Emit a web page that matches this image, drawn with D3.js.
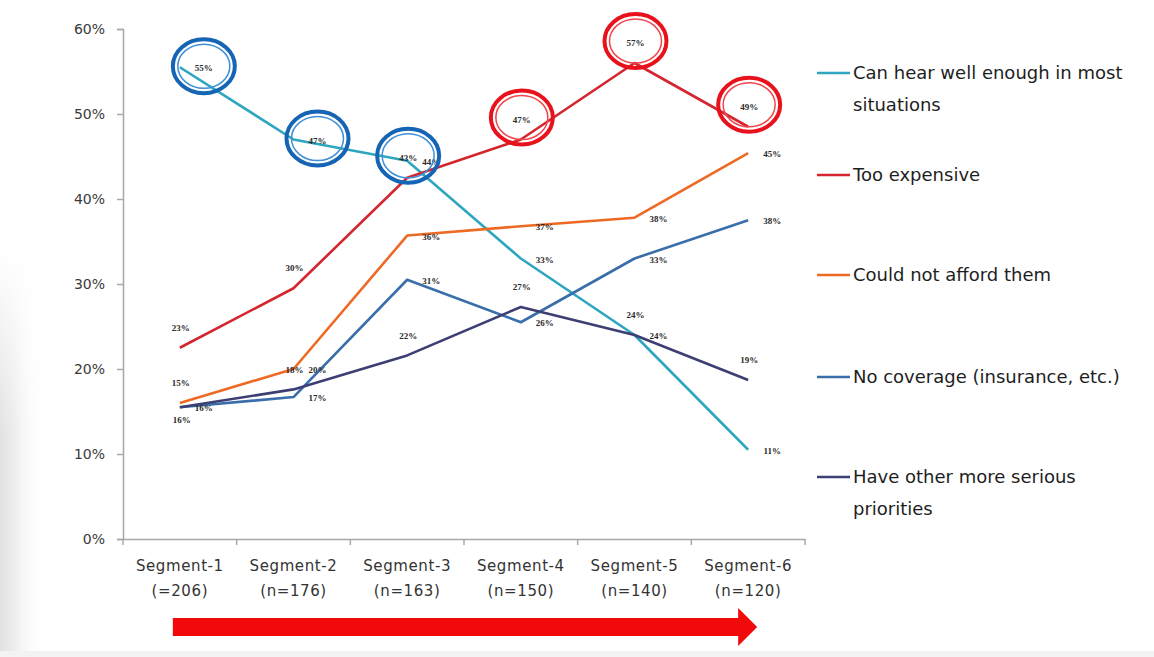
<!DOCTYPE html>
<html>
<head>
<meta charset="utf-8">
<script src="https://cdn.jsdelivr.net/npm/d3@7"></script>
<style>
    body { margin: 0; background: #fff; }
    svg { display: block; }
</style>
</head>
<body>
<div id="chart"></div>
<script>
let segments = ["Segment-1", "Segment-2", "Segment-3", "Segment-4", "Segment-5", "Segment-6"];
let sampleSizes = ["(=206)", "(n=176)", "(n=163)", "(n=150)", "(n=140)", "(n=120)"];
let yTicks = [0, 0.1, 0.2, 0.3, 0.4, 0.5, 0.6];

let seriesNames = ["Can hear well enough in most situations", "Too expensive", "Could not afford them",
    "No coverage (insurance, etc.)", "Have other more serious priorities"];
let legendLines = [["Can hear well enough in most", "situations"], ["Too expensive"], ["Could not afford them"],
    ["No coverage (insurance, etc.)"], ["Have other more serious", "priorities"]];

let hearWell = [55.5, 47, 44.5, 33, 24, 10.5];
let tooExpensive = [22.5, 29.5, 42.5, 47, 56, 48.5];
let couldNotAfford = [16, 20, 35.7, 36.8, 37.8, 45.4];
let noCoverage = [15.5, 16.7, 30.5, 25.5, 33, 37.5];
let otherPriorities = [15.5, 17.6, 21.6, 27.3, 24, 18.7];

let hearWellLabels = ["55%", "47%", "44%", "33%", "24%", "11%"];
let tooExpensiveLabels = ["23%", "30%", "43%", "47%", "57%", "49%"];
let couldNotAffordLabels = ["15%", "20%", "36%", "37%", "38%", "45%"];
let noCoverageLabels = ["16%", "17%", "31%", "26%", "33%", "38%"];
let otherPrioritiesLabels = ["16%", "18%", "22%", "27%", "24%", "19%"];

// where each data label sits: r = right of point, a = above, b = below
let hearWellPlace = ["r", "r", "r", "r", "r", "r"];
let tooExpensivePlace = ["a", "a", "a", "a", "a", "a"];
let couldNotAffordPlace = ["a", "r", "r", "r", "r", "r"];
let noCoveragePlace = ["b", "r", "r", "r", "r", "r"];
let otherPrioritiesPlace = ["r", "a", "a", "a", "a", "a"];

// circled labels: [series index, segment index, ring colour]
let highlights = [[0, 0, "blue"], [0, 1, "blue"], [1, 2, "blue"], [1, 3, "red"], [1, 4, "red"], [1, 5, "red"]];

let colors = ["#2ea6bf", "#d3262f", "#ee6a24", "#3a6eab", "#3d3f74"];

let values = [hearWell, tooExpensive, couldNotAfford, noCoverage, otherPriorities];
let labels = [hearWellLabels, tooExpensiveLabels, couldNotAffordLabels, noCoverageLabels, otherPrioritiesLabels];
let places = [hearWellPlace, tooExpensivePlace, couldNotAffordPlace, noCoveragePlace, otherPrioritiesPlace];

let width = 1154, height = 657;
let plotLeft = 123, plotRight = 805, plotTop = 29, plotBottom = 539;

let svg = d3.select("#chart").append("svg")
    .attr("width", width)
    .attr("height", height);

//faint grey shading along the left and bottom edge
{
    let defs = svg.append("defs");
    let gl = defs.append("linearGradient").attr("id", "shadeL").attr("x1", 0).attr("x2", 1).attr("y1", 0).attr("y2", 0);
    gl.append("stop").attr("offset", 0).attr("stop-color", "#e2e2e2");
    gl.append("stop").attr("offset", 0.3).attr("stop-color", "#ececec");
    gl.append("stop").attr("offset", 1).attr("stop-color", "#fff").attr("stop-opacity", 0);
    let gv = defs.append("linearGradient").attr("id", "fadeV").attr("x1", 0).attr("x2", 0).attr("y1", 0).attr("y2", 1);
    gv.append("stop").attr("offset", 0).attr("stop-color", "#fff").attr("stop-opacity", 0);
    gv.append("stop").attr("offset", 0.45).attr("stop-color", "#fff").attr("stop-opacity", 1);
    let mask = defs.append("mask").attr("id", "leftMask");
    mask.append("rect").attr("x", 0).attr("y", 250).attr("width", 60).attr("height", height - 250).style("fill", "url(#fadeV)");
    svg.append("rect").attr("x", 0).attr("y", 250).attr("width", 45).attr("height", height - 250)
        .attr("mask", "url(#leftMask)")
        .style("fill", "url(#shadeL)");
    svg.append("rect").attr("x", 0).attr("y", 651).attr("width", width).attr("height", 6).style("fill", "#f3f3f3");
}

let x = d3.scaleBand().domain(segments).range([plotLeft, plotRight]);
let y = d3.scaleLinear().domain([0, 0.6]).range([plotBottom, plotTop]);

let px = (i) => x(segments[i]) + x.bandwidth() / 2;
let py = (v) => y(v / 100);

//AXES
{
    let yAxis = svg.append("g")
        .attr("transform", "translate(" + plotLeft + ",0)")
        .call(d3.axisLeft(y).tickValues(yTicks).tickFormat(d3.format(".0%")).tickSize(6).tickPadding(12));
    yAxis.select(".domain").style("stroke", "#a8a8a8").style("stroke-width", 1.5);
    yAxis.selectAll(".tick line").style("stroke", "#a8a8a8").style("stroke-width", 1.5);
    yAxis.selectAll("text")
        .attr("font-family", "DejaVu Sans, sans-serif")
        .attr("font-size", 14)
        .style("fill", "#3a3a3a");

    let xAxis = svg.append("g")
        .attr("transform", "translate(0," + plotBottom + ")")
        .call(d3.axisBottom(x).tickSize(0).tickFormat(""));
    xAxis.select(".domain").style("stroke", "#a8a8a8").style("stroke-width", 1.5);

    // ticks sit between the categories
    let edges = segments.map(s => x(s)).concat([plotRight]);
    svg.selectAll("line.xtick").data(edges).enter().append("line")
        .attr("class", "xtick")
        .attr("x1", d => d).attr("x2", d => d)
        .attr("y1", plotBottom).attr("y2", plotBottom + 6)
        .style("stroke", "#a8a8a8").style("stroke-width", 1.5);

    let cats = svg.append("g").selectAll("g").data(segments).enter().append("g")
        .attr("transform", (d, i) => "translate(" + px(i) + "," + plotBottom + ")");
    cats.append("text")
        .attr("y", 32)
        .attr("text-anchor", "middle")
        .attr("font-family", "DejaVu Sans, sans-serif")
        .attr("font-size", 15)
        .attr("letter-spacing", 0.6)
        .style("fill", "#333")
        .text(d => d);
    cats.append("text")
        .attr("y", 57)
        .attr("text-anchor", "middle")
        .attr("font-family", "DejaVu Sans, sans-serif")
        .attr("font-size", 15)
        .attr("letter-spacing", 0.6)
        .style("fill", "#333")
        .text((d, i) => sampleSizes[i]);
}

//LINES
let line = d3.line().x((d, i) => px(i)).y(d => py(d));
svg.append("g").selectAll("path").data(values).enter().append("path")
    .attr("d", d => line(d))
    .style("fill", "none")
    .style("stroke", (d, i) => colors[i])
    .style("stroke-width", 2.6)
    .style("stroke-linejoin", "round");

//DATA LABELS
function LabelPos(s, i) {
    let cx = px(i), cy = py(values[s][i]);
    let p = places[s][i];
    if (p == "r") return [cx + 24, cy + 1];
    if (p == "a") return [cx + 1, cy - 20];
    return [cx + 2, cy + 13];
}

{
    let all = [];
    values.forEach((vals, s) => vals.forEach((v, i) => all.push([s, i])));
    svg.append("g").selectAll("text").data(all).enter().append("text")
        .attr("x", d => LabelPos(d[0], d[1])[0])
        .attr("y", d => LabelPos(d[0], d[1])[1])
        .attr("dy", ".35em")
        .attr("text-anchor", "middle")
        .attr("font-family", "Liberation Serif, serif")
        .attr("font-weight", "bold")
        .attr("font-size", 9)
        .style("fill", "#2a2a2a")
        .text(d => labels[d[0]][d[1]]);
}

//RINGS
{
    let ringColors = { blue: ["#1565b4", "#3d8fd8"], red: ["#e8121c", "#f0454b"] };
    let rings = svg.append("g").selectAll("g").data(highlights).enter().append("g")
        .attr("transform", d => {
            let p = LabelPos(d[0], d[1]);
            return "translate(" + p[0] + "," + (p[1] - 2) + ")";
        });
    rings.append("ellipse")
        .attr("rx", 31).attr("ry", 27)
        .style("fill", "none")
        .style("stroke", d => ringColors[d[2]][0])
        .style("stroke-width", 4);
    rings.append("ellipse")
        .attr("rx", 26).attr("ry", 22)
        .style("fill", "none")
        .style("stroke", d => ringColors[d[2]][1])
        .style("stroke-width", 1.5);
}

//ARROW
{
    let x0 = px(0) - 7, x1 = px(5) + 9, ay = 627;
    svg.append("path")
        .attr("d", "M" + x0 + "," + (ay - 9) + "H" + (x1 - 19) + "V" + (ay - 19) + "L" + x1 + "," + ay +
            "L" + (x1 - 19) + "," + (ay + 19) + "V" + (ay + 9) + "H" + x0 + "Z")
        .style("fill", "#f20a0a");
}

//LEGEND
{
    let rowY = [73, 175, 275, 377, 477];
    let el = svg.append("g").selectAll("g").data(seriesNames).enter().append("g")
        .attr("transform", (d, i) => "translate(817," + rowY[i] + ")");
    el.append("line")
        .attr("x1", 0).attr("x2", 33)
        .style("stroke", (d, i) => colors[i])
        .style("stroke-width", 2.5);
    el.each(function (d, i) {
        d3.select(this).selectAll("text").data(legendLines[i]).enter().append("text")
            .attr("x", 36)
            .attr("y", (t, j) => j * 32)
            .attr("dy", ".35em")
            .attr("font-family", "DejaVu Sans, sans-serif")
            .attr("font-size", 18)
            .style("fill", "#1e1e1e")
            .text(t => t);
    });
}
</script>
</body>
</html>
